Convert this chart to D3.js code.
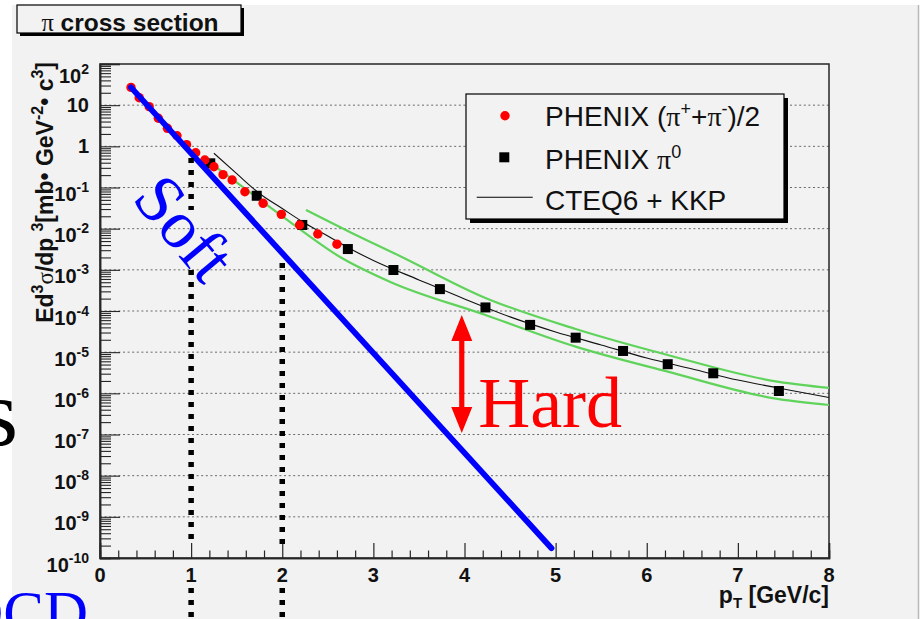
<!DOCTYPE html>
<html>
<head>
<meta charset="utf-8">
<script src="https://cdn.jsdelivr.net/npm/d3@7"></script>
<style>
  html, body { margin: 0; padding: 0; background: #ffffff; }
  svg { display: block; }
  .sans { font-family: "Liberation Sans", Arial, Helvetica, sans-serif; }
  .serif { font-family: "Liberation Serif", "Times New Roman", serif; }
</style>
</head>
<body>
<svg id="chart" width="920" height="619"></svg>
<script>
// PHENIX (pi+ + pi-)/2 : pT [GeV/c] and Ed3sigma/dp3 [mb GeV^-2 c^3]
const chargedPT = [0.34, 0.43, 0.54, 0.64, 0.74, 0.845, 0.95, 1.05, 1.15, 1.25, 1.35, 1.45, 1.59, 1.79, 1.99, 2.19, 2.39, 2.60];
const chargedXS = [27, 15.2, 9.2, 4.8, 2.74, 1.81, 1.10, 0.70, 0.466, 0.32, 0.205, 0.152, 0.079, 0.0413, 0.0223, 0.0123, 0.0074, 0.0042];

// PHENIX pi0
const neutralPT = [1.21, 1.72, 2.22, 2.72, 3.22, 3.73, 4.23, 4.72, 5.22, 5.74, 6.23, 6.73, 7.45];
const neutralXS = [0.387, 0.063, 0.0123, 0.0032, 9.9e-4, 3.4e-4, 1.22e-4, 4.6e-5, 2.25e-5, 1.07e-5, 5.1e-6, 3.07e-6, 1.14e-6];

// CTEQ6 + KKP NLO curve
const nloPT = [1.25, 1.5, 1.75, 2.0, 2.25, 2.5, 2.75, 3.0, 3.5, 4.0, 4.5, 5.0, 5.5, 6.0, 6.5, 7.0, 7.5, 8.0];
const nloXS = [0.68, 0.217, 0.0715, 0.0308, 0.0135, 6.6e-3, 3.2e-3, 1.69e-3, 5.7e-4, 1.96e-4, 7.2e-5, 3.1e-5, 1.5e-5, 7.2e-6, 3.9e-6, 2.1e-6, 1.28e-6, 7.9e-7];

// scale-variation band edges
const bandUpperPT = [2.26, 2.74, 3.29, 4.23, 5.22, 6.23, 7.45, 8.0];
const bandUpperXS = [0.0284, 8.3e-3, 2.17e-3, 2.07e-4, 3.66e-5, 8.55e-6, 1.89e-6, 1.35e-6];
const bandLowerPT = [1.25, 1.61, 2.08, 2.63, 3.18, 4.23, 5.22, 6.23, 7.45, 8.0];
const bandLowerXS = [0.339, 0.087, 0.0148, 2.08e-3, 5.15e-4, 8.0e-5, 1.36e-5, 3.36e-6, 7.2e-7, 5.2e-7];

// exponential "soft" component
const softPT = [0.34, 4.955];
const softXS = [27, 1.73e-10];

// axis ticks
const xMajorTicks = [0, 1, 2, 3, 4, 5, 6, 7, 8];
const yDecades = [2, 1, 0, -1, -2, -3, -4, -5, -6, -7, -8, -9, -10];

// dotted guides at pT = 1 and 2 (segments given as value ranges)
const guidePT = [1, 2];
const guideSegments = [
  [[0.52, 0.0284], [9.9e-4, 2.2e-10], [1.87e-11, 1e-12]],
  [[1.47e-3, 2.2e-10], [1.87e-11, 1e-12]]
];

// hard-component arrow
const arrowPT = 3.97;
const arrowXS = [8e-5, 1.09e-7];

const svg = d3.select("#chart");
const W = 920, H = 619;

// page panel
svg.append("rect").attr("x", 12).attr("y", 5).attr("width", 906).attr("height", H - 5).attr("fill", "#f2f2f2");
svg.append("line").attr("x1", 918.5).attr("x2", 918.5).attr("y1", 5).attr("y2", H)
  .attr("stroke", "#b8b8b8").attr("stroke-width", 1.5);

const plot = { left: 100, right: 829, top: 64, bottom: 558 };
const x = d3.scaleLinear().domain([0, 8]).range([plot.left, plot.right]);
const y = d3.scaleLog().domain([1e-10, 1e2]).range([plot.bottom, plot.top]);

// horizontal dotted grid at each decade
svg.append("g").selectAll("line")
  .data(yDecades.filter(d => d < 2 && d > -10))
  .join("line")
  .attr("x1", plot.left).attr("x2", plot.right)
  .attr("y1", d => y(Math.pow(10, d))).attr("y2", d => y(Math.pow(10, d)))
  .attr("stroke", "#6a6a6a").attr("stroke-width", 1).attr("stroke-dasharray", "2,2.6");

// frame
svg.append("rect").attr("x", plot.left).attr("y", plot.top)
  .attr("width", plot.right - plot.left).attr("height", plot.bottom - plot.top)
  .attr("fill", "none").attr("stroke", "#262626").attr("stroke-width", 1.5);

// x axis ticks (drawn inward)
const xMinor = d3.range(0, 8.0001, 0.2).filter(v => Math.abs(v - Math.round(v)) > 1e-6);
const xAxisG = svg.append("g").attr("transform", `translate(0,${plot.bottom})`);
xAxisG.call(d3.axisBottom(x).tickValues(xMajorTicks).tickSize(-15).tickFormat(""));
xAxisG.append("g").call(d3.axisBottom(x).tickValues(xMinor).tickSize(-7.5).tickFormat(""));
xAxisG.selectAll(".domain").attr("stroke", "#262626").attr("stroke-width", 1.5);
xAxisG.selectAll(".tick line").attr("stroke", "#262626").attr("stroke-width", 1.2);

// y axis ticks (drawn inward)
const yMinor = [];
yDecades.forEach(d => { if (d < 2) for (let k = 2; k <= 9; k++) yMinor.push(k * Math.pow(10, d)); });
const yAxisG = svg.append("g").attr("transform", `translate(${plot.left},0)`);
yAxisG.call(d3.axisLeft(y).tickValues(yDecades.map(d => Math.pow(10, d))).tickSize(-20).tickFormat(""));
yAxisG.append("g").call(d3.axisLeft(y).tickValues(yMinor).tickSize(-11).tickFormat(""));
yAxisG.selectAll(".domain").attr("stroke", "#262626").attr("stroke-width", 1.5);
yAxisG.selectAll(".tick line").attr("stroke", "#262626").attr("stroke-width", 1.1);

// x tick labels
svg.append("g").selectAll("text").data(xMajorTicks).join("text")
  .attr("class", "sans").attr("x", d => x(d)).attr("y", 582)
  .attr("text-anchor", "middle").attr("font-size", 20).attr("font-weight", "bold")
  .attr("fill", "#111").text(d => d);

// y tick labels with superscript exponents
const yLab = svg.append("g").attr("class", "sans").attr("font-weight", "bold").attr("fill", "#111");
yDecades.forEach(d => {
  const yy = y(Math.pow(10, d));
  const t = yLab.append("text").attr("x", 89).attr("text-anchor", "end").attr("font-size", 20);
  if (d === 0) { t.attr("y", yy + 7).text("1"); return; }
  if (d === 1) { t.attr("y", yy + 7).text("10"); return; }
  t.attr("y", yy + (d === 2 ? 18.5 : 13.5));
  t.append("tspan").text("10");
  t.append("tspan").attr("font-size", 14).attr("dy", -9).text(String(d));
});

// axis titles
const xt = svg.append("text").attr("class", "sans").attr("x", plot.right).attr("y", 603)
  .attr("text-anchor", "end").attr("font-size", 23).attr("font-weight", "bold").attr("fill", "#111");
xt.append("tspan").text("p");
xt.append("tspan").attr("font-size", 15).attr("dy", 5).text("T");
xt.append("tspan").attr("dy", -5).text(" [GeV/c]");

const yt = svg.append("text").attr("class", "sans")
  .attr("transform", "translate(53,62) rotate(-90)")
  .attr("text-anchor", "end").attr("font-size", 23).attr("font-weight", "bold").attr("fill", "#111");
yt.append("tspan").text("Ed");
yt.append("tspan").attr("font-size", 16).attr("dy", -10).text("3");
yt.append("tspan").attr("dy", 10).attr("font-family", "Liberation Serif, serif").attr("font-weight", "normal").text("σ");
yt.append("tspan").text("/dp");
yt.append("tspan").attr("font-size", 16).attr("dy", -10).attr("dx", 6).text("3");
yt.append("tspan").attr("dy", 10).text("[mb• GeV");
yt.append("tspan").attr("font-size", 16).attr("dy", -10).text("-2");
yt.append("tspan").attr("dy", 10).text("• c");
yt.append("tspan").attr("font-size", 16).attr("dy", -10).text("3");
yt.append("tspan").attr("dy", 10).text("]");

// curves
const logLine = d3.line().x(d => x(d[0])).y(d => y(d[1])).curve(d3.curveMonotoneX);
const zip = (a, b) => a.map((v, i) => [v, b[i]]);

svg.append("path").datum(zip(bandUpperPT, bandUpperXS)).attr("d", logLine)
  .attr("fill", "none").attr("stroke", "#5fd35a").attr("stroke-width", 2.2);
svg.append("path").datum(zip(bandLowerPT, bandLowerXS)).attr("d", logLine)
  .attr("fill", "none").attr("stroke", "#5fd35a").attr("stroke-width", 2.2);
svg.append("path").datum(zip(nloPT, nloXS)).attr("d", logLine)
  .attr("fill", "none").attr("stroke", "#111").attr("stroke-width", 1.1);

// pi0 squares
svg.append("g").selectAll("rect").data(zip(neutralPT, neutralXS)).join("rect")
  .attr("x", d => x(d[0]) - 5).attr("y", d => y(d[1]) - 5)
  .attr("width", 10).attr("height", 10).attr("fill", "#000");

// charged pion dots
svg.append("g").selectAll("circle").data(zip(chargedPT, chargedXS)).join("circle")
  .attr("cx", d => x(d[0])).attr("cy", d => y(d[1])).attr("r", 4.7).attr("fill", "#ff0000");

// soft exponential
svg.append("path").datum(zip(softPT, softXS)).attr("d", d3.line().x(d => x(d[0])).y(d => y(d[1])))
  .attr("fill", "none").attr("stroke", "#0000ff").attr("stroke-width", 5.8).attr("stroke-linecap", "round");

// dotted guides
guidePT.forEach((pt, i) => {
  guideSegments[i].forEach(seg => {
    svg.append("line").attr("x1", x(pt)).attr("x2", x(pt))
      .attr("y1", y(seg[0])).attr("y2", y(seg[1]))
      .attr("stroke", "#000").attr("stroke-width", 5.5).attr("stroke-dasharray", "5,7");
  });
});

// double-headed arrow for the hard component
{
  const ax = x(arrowPT), yTop = y(arrowXS[0]), yBot = y(arrowXS[1]);
  const hl = 26, hw = 10.5, sw = 2.6;
  const p = [
    [ax, yTop], [ax + hw, yTop + hl], [ax + sw, yTop + hl], [ax + sw, yBot - hl], [ax + hw, yBot - hl],
    [ax, yBot], [ax - hw, yBot - hl], [ax - sw, yBot - hl], [ax - sw, yTop + hl], [ax - hw, yTop + hl]
  ];
  svg.append("path").attr("d", "M" + p.map(q => q.join(",")).join("L") + "Z").attr("fill", "#ff0000");
}

// annotations
svg.append("text").attr("class", "serif").attr("x", x(4.15)).attr("y", y(1.52e-7))
  .attr("font-size", 72).attr("fill", "#ff0000").text("Hard");
svg.append("text").attr("class", "serif")
  .attr("transform", `translate(${x(0.93)},${y(0.0105)}) rotate(50)`)
  .attr("text-anchor", "middle").attr("dominant-baseline", "central")
  .attr("font-size", 68).attr("fill", "#0000ff").text("Soft");

// legend
const lg = svg.append("g");
lg.append("rect").attr("x", 470).attr("y", 98).attr("width", 318).attr("height", 125).attr("fill", "#000");
lg.append("rect").attr("x", 466).attr("y", 94).attr("width", 318).attr("height", 125)
  .attr("fill", "#f2f2f2").attr("stroke", "#000").attr("stroke-width", 1.2);
lg.append("circle").attr("cx", 505).attr("cy", 115.7).attr("r", 4.7).attr("fill", "#ff0000");
lg.append("rect").attr("x", 499.3).attr("y", 152.3).attr("width", 10).attr("height", 10).attr("fill", "#000");
lg.append("line").attr("x1", 476.7).attr("x2", 532.7).attr("y1", 197.3).attr("y2", 197.3)
  .attr("stroke", "#000").attr("stroke-width", 1.1);
const l1 = lg.append("text").attr("class", "sans").attr("x", 545).attr("y", 125.7).attr("font-size", 28).attr("fill", "#111");
l1.append("tspan").text("PHENIX (");
l1.append("tspan").attr("font-family", "Liberation Serif, serif").text("π");
l1.append("tspan").attr("font-size", 18).attr("dy", -11).text("+");
l1.append("tspan").attr("dy", 11).text("+");
l1.append("tspan").attr("font-family", "Liberation Serif, serif").text("π");
l1.append("tspan").attr("font-size", 18).attr("dy", -11).text("-");
l1.append("tspan").attr("dy", 11).text(")/2");
const l2 = lg.append("text").attr("class", "sans").attr("x", 545).attr("y", 169).attr("font-size", 28).attr("fill", "#111");
l2.append("tspan").text("PHENIX ");
l2.append("tspan").attr("font-family", "Liberation Serif, serif").text("π");
l2.append("tspan").attr("font-size", 18).attr("dy", -11).text("0");
lg.append("text").attr("class", "sans").attr("x", 545).attr("y", 210).attr("font-size", 28).attr("fill", "#111").text("CTEQ6 + KKP");

// title box
svg.append("rect").attr("x", 20).attr("y", 8).attr("width", 224).attr("height", 28).attr("fill", "#000");
svg.append("rect").attr("x", 17).attr("y", 5).attr("width", 224).attr("height", 28)
  .attr("fill", "#f2f2f2").attr("stroke", "#000").attr("stroke-width", 1.2);
const tt = svg.append("text").attr("class", "sans").attr("x", 130).attr("y", 31)
  .attr("text-anchor", "middle").attr("font-size", 24.5).attr("font-weight", "bold").attr("fill", "#111");
tt.append("tspan").attr("font-family", "Liberation Serif, serif").attr("font-weight", "normal").text("π");
tt.append("tspan").text(" cross section");

// surrounding slide text
svg.append("text").attr("class", "serif").attr("x", 18).attr("y", 445)
  .attr("text-anchor", "end").attr("font-size", 96).attr("fill", "#000").text("s");
svg.append("text").attr("class", "serif").attr("x", 88).attr("y", 633)
  .attr("text-anchor", "end").attr("font-size", 61).attr("fill", "#0000ff").text("QCD");
</script>
</body>
</html>
